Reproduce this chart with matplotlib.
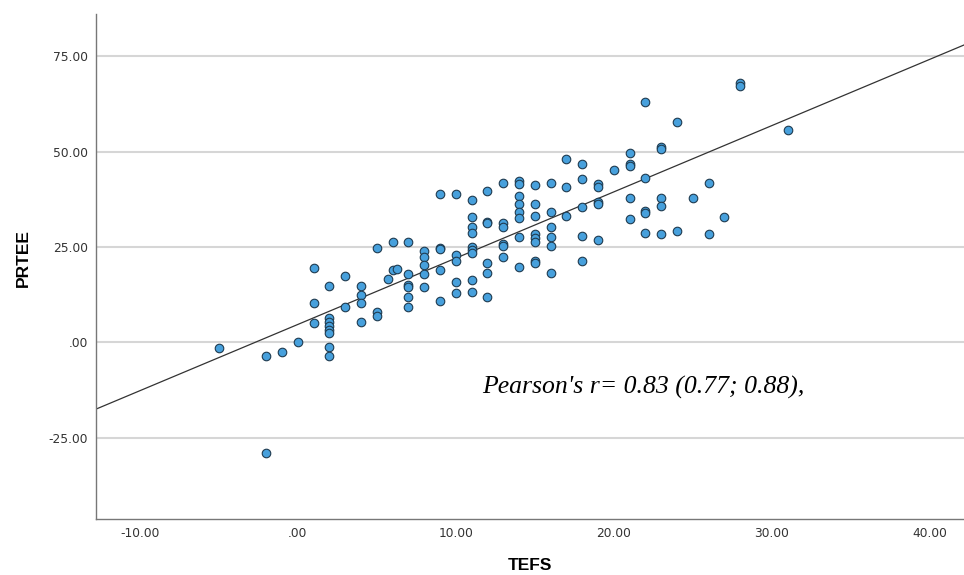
import numpy as np
import matplotlib
matplotlib.use('Agg')
import matplotlib.pyplot as plt

# TEFS (x) and PRTEE (y) values, grouped by TEFS column
tefs = [-5, -2, -2, -1, 0,
        1, 1, 1,
        2, 2, 2, 2, 2, 2, 2, 2,
        3, 3,
        4, 4, 4, 4,
        5, 5, 5,
        5.7, 6, 6.3, 6,
        7, 7, 7, 7, 7, 7,
        8, 8, 8, 8, 8,
        9, 9, 9, 9, 9,
        10, 10, 10, 10, 10,
        11, 11, 11, 11, 11, 11, 11, 11, 11,
        12, 12, 12, 12, 12, 12,
        13, 13, 13, 13, 13, 13,
        14, 14, 14, 14, 14, 14, 14, 14,
        15, 15, 15, 15, 15, 15, 15, 15,
        16, 16, 16, 16, 16, 16,
        17, 17, 17,
        18, 18, 18, 18, 18,
        19, 19, 19, 19, 19,
        20,
        21, 21, 21, 21, 21,
        22, 22, 22, 22, 22,
        23, 23, 23, 23, 23,
        24, 24,
        25,
        26, 26,
        27,
        28, 28,
        31]
prtee = [-1.6, -3.6, -28.9, -2.5, 0.0,
         19.4, 10.4, 5.0,
         14.8, 6.5, 5.4, 4.4, 3.3, 2.4, -1.1, -3.6,
         17.4, 9.3,
         14.8, 12.4, 10.4, 5.4,
         24.8, 8.0, 7.0,
         16.5, 19.0, 19.1, 26.4,
         26.4, 17.8, 15.0, 14.4, 12.0, 9.3,
         23.9, 22.3, 20.3, 17.8, 14.4,
         38.8, 24.8, 24.4, 19.0, 10.9,
         38.8, 22.9, 21.4, 15.9, 12.8,
         37.2, 32.8, 30.1, 28.7, 25.1, 24.2, 23.3, 16.3, 13.3,
         39.7, 31.6, 31.2, 20.7, 18.3, 12.0,
         41.7, 31.4, 30.1, 25.9, 25.2, 22.3,
         42.4, 41.4, 38.3, 36.3, 34.2, 32.5, 27.7, 19.8,
         41.2, 36.3, 33.2, 28.3, 27.3, 26.3, 21.4, 20.9,
         41.7, 34.2, 30.1, 27.7, 25.2, 18.3,
         48.1, 40.7, 33.2,
         46.7, 42.7, 35.4, 27.9, 21.3,
         41.4, 40.6, 36.9, 36.3, 26.8,
         45.2,
         49.7, 46.7, 46.2, 37.7, 32.3,
         63.1, 43.2, 34.5, 33.8, 28.7,
         51.1, 50.6, 37.7, 35.7, 28.3,
         57.7, 29.3,
         37.7,
         41.7, 28.3,
         32.8,
         67.9, 67.2,
         55.6]

# fit line as drawn in the reference
fit_intercept = 4.68
fit_slope = 1.737

x_ticks = [-10, 0, 10, 20, 30, 40]
x_tick_labels = ['-10.00', '.00', '10.00', '20.00', '30.00', '40.00']
y_ticks = [-25, 0, 25, 50, 75]
y_tick_labels = ['-25.00', '.00', '25.00', '50.00', '75.00']

fig = plt.figure(figsize=(9.64, 5.75), dpi=100)
ax = fig.add_axes([96 / 964, 1 - 519 / 575, 1 - 96 / 964, (519 - 14) / 575])

xlim = (-12.77, 42.17)
ylim = (-46.3, 86.05)

# horizontal grid lines only
for yt in y_ticks:
    ax.axhline(yt, color='#d6d6d6', linewidth=1.5, zorder=0)

# regression line
xs = np.array(xlim)
ax.plot(xs, fit_intercept + fit_slope * xs, color='#333333', linewidth=0.9, zorder=2)

# points
ax.scatter(tefs, prtee, s=38, facecolor='#47a0dc', edgecolor='#1f3b50',
           linewidth=0.8, zorder=3)

ax.set_xlim(*xlim)
ax.set_ylim(*ylim)

ax.set_xticks(x_ticks)
ax.set_xticklabels(x_tick_labels)
ax.set_yticks(y_ticks)
ax.set_yticklabels(y_tick_labels)
ax.tick_params(length=0, labelsize=8.8, colors='#333333', pad=6)

for side in ['top', 'right']:
    ax.spines[side].set_visible(False)
for side in ['left', 'bottom']:
    ax.spines[side].set_color('#777777')
    ax.spines[side].set_linewidth(1.0)

# axis titles placed in figure pixels like the reference
fig.text(530 / 964, 1 - 565 / 575, 'TEFS', family='Liberation Sans', fontsize=12.5,
         fontweight='bold', ha='center', va='center')
fig.text(23 / 964, 1 - 258 / 575, 'PRTEE', family='Liberation Sans', fontsize=12.5,
         fontweight='bold', ha='center', va='center', rotation=90)

ax.text(21.9, -11.7, "Pearson's r= 0.83 (0.77; 0.88),", family='Liberation Serif',
        style='italic', fontsize=18.5, ha='center', va='center', color='black')

plt.savefig('out.png', dpi=100)
